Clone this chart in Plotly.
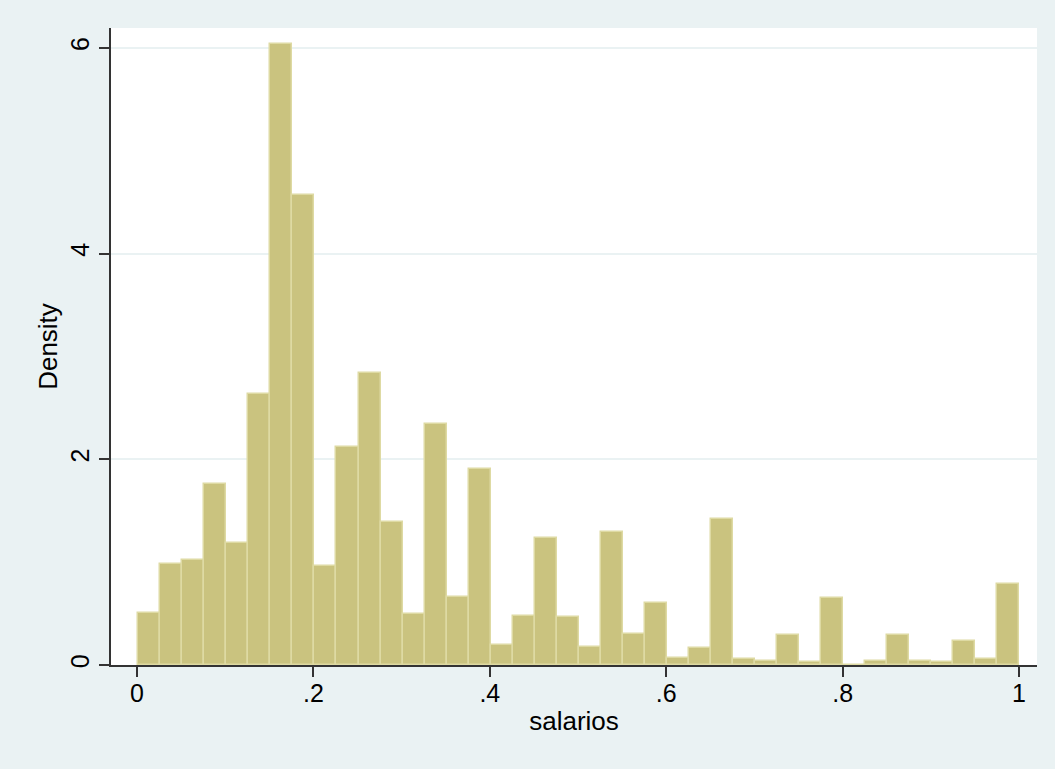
import plotly.graph_objects as go

# Histogram of salarios: 40 equal-width bins, density scale
bin_start = 0.0015
bin_width = (1.0 - bin_start) / 40
density = [
    0.508, 0.979, 1.021, 1.760, 1.183, 2.632, 6.035, 4.570, 0.966, 2.117,
    2.839, 1.387, 0.493, 2.340, 0.658, 1.903, 0.198, 0.476, 1.235, 0.463,
    0.172, 1.290, 0.298, 0.606, 0.065, 0.162, 1.416, 0.058, 0.039, 0.292,
    0.026, 0.655, 0.000, 0.039, 0.292, 0.039, 0.032, 0.233, 0.055, 0.785,
]
x_ticks = [0, 0.2, 0.4, 0.6, 0.8, 1.0]
x_tick_text = ["0", ".2", ".4", ".6", ".8", "1"]
y_ticks = [0, 2, 4, 6]
y_tick_text = ["0", "2", "4", "6"]

centers = [bin_start + (i + 0.5) * bin_width for i in range(len(density))]

BG = "#EAF2F3"
FILL = "#CAC37F"
EDGE = "#DEDAA3"
AXIS = "#333333"
FONT = "Liberation Sans, Arial, Helvetica, sans-serif"

fig = go.Figure(
    go.Bar(
        x=centers,
        y=density,
        width=bin_width,
        marker=dict(color=FILL, line=dict(color=EDGE, width=1.5)),
        hoverinfo="x+y",
    )
)

fig.update_layout(
    width=1055,
    height=769,
    margin=dict(l=111, r=18, t=28, b=104),
    paper_bgcolor=BG,
    plot_bgcolor="white",
    showlegend=False,
    bargap=0,
    font=dict(family=FONT, color="black", size=25),
)

fig.update_xaxes(
    range=[-0.0295, 1.0204],
    tickvals=x_ticks,
    ticktext=x_tick_text,
    ticks="outside",
    ticklen=10,
    tickwidth=1.5,
    tickcolor=AXIS,
    showline=True,
    linecolor=AXIS,
    linewidth=1.5,
    showgrid=False,
    zeroline=False,
    ticklabelstandoff=-5,
    tickfont=dict(size=25),
    title=dict(text="salarios", font=dict(size=26), standoff=6),
)

fig.update_yaxes(
    range=[0, 6.193],
    tickvals=y_ticks,
    ticktext=y_tick_text,
    tickangle=-90,
    ticks="outside",
    ticklen=10,
    tickwidth=1.5,
    tickcolor=AXIS,
    showline=True,
    linecolor=AXIS,
    linewidth=1.5,
    showgrid=True,
    gridcolor=BG,
    gridwidth=1.5,
    zeroline=False,
    ticklabelstandoff=0,
    tickfont=dict(size=25),
    title=dict(text="Density", font=dict(size=26), standoff=1),
)

fig.write_html("out.html")
